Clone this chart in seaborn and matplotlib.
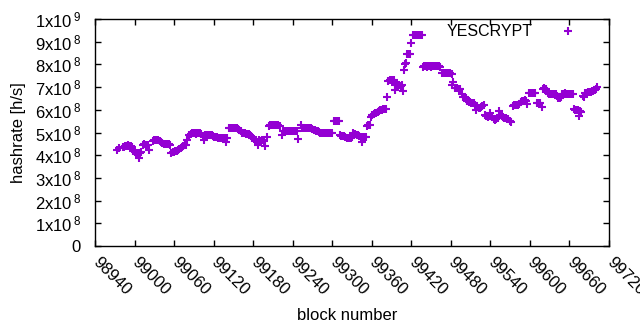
import matplotlib
matplotlib.use("Agg")
import matplotlib.pyplot as plt
import seaborn as sns
import pandas as pd

# block numbers and estimated hashrate (units of 1e8 h/s)
blocks = [
    98974, 98977,
    98982, 98984, 98986, 98988, 98990, 98992, 98994, 98996,
    98998, 99000, 99002, 99004, 99006, 99007, 99008, 99010,
    99013, 99015, 99017, 99019, 99021, 99022,
    99028, 99030, 99032, 99034, 99036, 99038, 99040,
    99042, 99044, 99046, 99048, 99050, 99052, 99054,
    99056, 99058, 99060, 99062, 99064, 99066,
    99068, 99070, 99072, 99074, 99076, 99078, 99080,
    99083, 99085, 99087, 99089, 99091, 99093, 99095, 99097, 99099, 99101,
    99104, 99106, 99107, 99109, 99111, 99113, 99115, 99117, 99119, 99121,
    99123, 99125, 99127, 99129, 99131, 99133, 99135, 99137, 99139, 99141,
    99143, 99145, 99147, 99149, 99151, 99153, 99155, 99157, 99159, 99161,
    99163, 99165, 99167, 99169, 99171, 99173, 99175, 99177, 99179,
    99181, 99183, 99185, 99187, 99189, 99191, 99193, 99195, 99197, 99198, 99201,
    99204, 99206, 99208, 99210, 99212, 99214, 99216, 99218, 99220,
    99224, 99226, 99228, 99230, 99232, 99234, 99236, 99238, 99240, 99242, 99244, 99246, 99248,
    99252, 99254, 99256, 99258, 99260, 99262, 99264, 99266, 99268, 99270, 99272, 99274, 99276, 99278, 99280,
    99282, 99284, 99286, 99288, 99290, 99292, 99294, 99296, 99298, 99300,
    99302, 99304, 99306, 99308, 99310,
    99312, 99314, 99316, 99318, 99320, 99322, 99324, 99326, 99328, 99330, 99331,
    99333, 99335, 99337, 99339, 99341, 99343, 99345, 99347, 99349, 99351,
    99353, 99355, 99357, 99359,
    99361, 99363, 99365, 99367, 99369, 99371, 99373, 99375, 99377, 99379, 99381, 99383,
    99385, 99387, 99389, 99391, 99393, 99395,
    99396, 99398, 99400, 99402, 99404, 99406, 99407, 99409,
    99410, 99412, 99414, 99416, 99418, 99420,
    99422, 99424, 99426, 99428, 99430, 99432, 99434, 99436,
    99438, 99440, 99442, 99444, 99446, 99448, 99450, 99452, 99454, 99456, 99458, 99460, 99462, 99464,
    99467, 99469, 99471, 99473, 99475, 99477, 99479, 99481, 99482, 99483,
    99486, 99488, 99490, 99492, 99494, 99497,
    99499, 99501, 99503, 99505, 99507, 99509, 99511, 99513, 99515, 99517, 99518,
    99520, 99522, 99524, 99526, 99528, 99530,
    99532, 99534, 99536, 99538, 99539, 99541, 99543,
    99545, 99547, 99549, 99551, 99553,
    99555, 99557, 99559, 99561, 99563, 99565, 99567, 99570, 99572,
    99574, 99576, 99578, 99580, 99582, 99584,
    99586, 99588, 99590, 99592, 99594, 99596,
    99598, 99600, 99602, 99604, 99606, 99608,
    99610, 99612, 99614, 99616, 99618,
    99620, 99621, 99623, 99625,
    99627, 99629, 99631, 99633, 99635, 99637, 99639, 99641,
    99643, 99645, 99647,
    99649, 99651, 99653, 99655, 99657, 99659, 99661, 99663, 99665,
    99667, 99669, 99671, 99673, 99674, 99676, 99678, 99680,
    99682, 99684, 99686, 99688, 99690, 99692, 99694, 99696, 99698, 99700, 99702,
]
hashrate_e8 = [
    4.22, 4.30,
    4.35, 4.38, 4.40, 4.42, 4.43, 4.42, 4.40, 4.38,
    4.20, 4.12, 4.08, 4.05, 4.10, 3.88, 4.08, 4.12,
    4.45, 4.48, 4.46, 4.44, 4.45, 4.23,
    4.62, 4.66, 4.68, 4.68, 4.66, 4.64, 4.60,
    4.52, 4.50, 4.49, 4.48, 4.50, 4.48, 4.47,
    4.10, 4.12, 4.14, 4.17, 4.20, 4.22,
    4.26, 4.30, 4.35, 4.40, 4.44, 4.45, 4.67,
    4.90, 4.95, 4.98, 5.00, 4.98, 4.95, 4.96, 5.00, 4.98, 4.95,
    4.85, 4.67, 4.88, 4.90, 4.89, 4.88, 4.90, 4.88, 4.86, 4.82,
    4.80, 4.78, 4.76, 4.75, 4.74, 4.76, 4.75, 4.74, 4.58, 4.75,
    5.18, 5.20, 5.22, 5.21, 5.20, 5.20, 5.18, 5.15, 5.12, 5.05,
    5.00, 4.98, 4.98, 4.95, 4.93, 4.92, 4.90, 4.85, 4.75,
    4.70, 4.68, 4.66, 4.45, 4.65, 4.64, 4.66, 4.65, 4.62, 4.41, 4.80,
    5.28, 5.32, 5.35, 5.35, 5.34, 5.33, 5.34, 5.32, 5.30,
    4.89, 5.05, 5.08, 5.08, 5.07, 5.08, 5.07, 5.06, 5.07, 5.08, 5.06, 5.05, 4.71,
    5.33, 5.22, 5.20, 5.21, 5.20, 5.20, 5.19, 5.20, 5.18, 5.15, 5.12, 5.10, 5.08, 5.05, 5.02,
    4.98, 4.98, 4.97, 4.98, 4.99, 4.98, 4.98, 4.97, 4.98, 4.99,
    5.50, 5.52, 5.51, 5.50, 5.50,
    4.89, 4.85, 4.86, 4.84, 4.80, 4.76, 4.74, 4.75, 4.76, 4.80, 5.00,
    4.90, 4.92, 4.90, 4.88, 4.85, 4.80, 4.58, 4.78, 4.80, 4.78,
    5.30, 5.33, 5.34, 5.68,
    5.75, 5.80, 5.85, 5.88, 5.92, 5.95, 5.98, 6.00, 6.02, 6.04, 6.04, 6.56,
    7.28, 7.31, 7.32, 7.31, 7.30, 6.87,
    7.10, 7.08, 7.10, 7.09, 7.05, 7.08, 6.83, 7.75,
    8.02, 8.05, 8.45, 8.45, 8.48, 8.94,
    9.28, 9.30, 9.30, 9.31, 9.30, 9.30, 9.30, 9.28,
    7.90, 7.92, 7.91, 7.90, 7.91, 7.92, 7.90, 7.91, 7.93, 7.95, 7.94, 7.93, 7.92, 7.88,
    7.62, 7.63, 7.62, 7.62, 7.60, 7.62, 7.60, 7.58, 7.09, 7.22,
    6.98, 6.96, 6.95, 6.92, 6.90, 6.70,
    6.56, 6.55, 6.50, 6.40, 6.35, 6.34, 6.32, 6.30, 6.28, 6.20, 5.99,
    6.15, 6.10, 6.08, 6.12, 6.15, 6.20,
    5.75, 5.72, 5.70, 5.73, 5.86, 5.72, 5.70,
    5.60, 5.55, 5.58, 5.62, 5.95,
    5.75, 5.72, 5.70, 5.65, 5.62, 5.60, 5.58, 5.50, 5.45,
    6.18, 6.20, 6.21, 6.20, 6.22, 6.25,
    6.35, 6.38, 6.40, 6.42, 6.40, 6.25,
    6.72, 6.74, 6.75, 6.74, 6.73, 6.72,
    6.30, 6.32, 6.30, 6.28, 6.12,
    6.92, 6.95, 6.92, 6.90,
    6.72, 6.70, 6.70, 6.68, 6.70, 6.71, 6.70, 6.60,
    6.52, 6.50, 6.55,
    6.68, 6.70, 6.72, 6.70, 6.71, 6.70, 6.70, 6.71, 6.68,
    6.02, 6.00, 5.98, 6.00, 5.73, 5.95, 5.92, 6.62,
    6.55, 6.72, 6.75, 6.78, 6.80, 6.80, 6.82, 6.85, 6.88, 6.92, 7.00,
]

series_name = "YESCRYPT"
x_ticks = [98940, 99000, 99060, 99120, 99180, 99240, 99300, 99360, 99420, 99480, 99540, 99600, 99660, 99720]
y_ticks_e8 = [0, 1, 2, 3, 4, 5, 6, 7, 8, 9, 10]
y_tick_labels = ["0", "1x10$^{\\,8}$", "2x10$^{\\,8}$", "3x10$^{\\,8}$", "4x10$^{\\,8}$",
                 "5x10$^{\\,8}$", "6x10$^{\\,8}$", "7x10$^{\\,8}$", "8x10$^{\\,8}$",
                 "9x10$^{\\,8}$", "1x10$^{\\,9}$"]

plt.rcParams['font.family'] = ['Liberation Sans', 'DejaVu Sans']
plt.rcParams['mathtext.fontset'] = 'custom'
plt.rcParams['mathtext.rm'] = 'Liberation Sans'
plt.rcParams['mathtext.default'] = 'regular'

df = pd.DataFrame({"block": blocks, "hashrate": [v * 1e8 for v in hashrate_e8]})

fig = plt.figure(figsize=(6.4, 3.3), dpi=100)
ax = fig.add_axes([95 / 640, 1 - 246 / 330, 514 / 640, 227 / 330])

sns.scatterplot(data=df, x="block", y="hashrate", marker="+", s=36,
                color="#9400D3", linewidth=1.5, label=series_name, ax=ax)

ax.set_xlim(98940, 99720)
ax.set_ylim(0, 1e9)
ax.set_xticks(x_ticks)
ax.set_xticklabels([str(t) for t in x_ticks], rotation=-45, ha="left", va="center",
                   rotation_mode="anchor")
ax.set_yticks([v * 1e8 for v in y_ticks_e8])
ax.set_yticklabels(y_tick_labels)

ax.tick_params(axis="both", direction="in", length=4, width=1, labelsize=12,
               top=True, right=True, colors="black")
ax.tick_params(axis="y", pad=10)
ax.tick_params(axis="x", pad=10)
for sp in ax.spines.values():
    sp.set_linewidth(1)
    sp.set_color("black")

ax.set_xlabel("block number", fontsize=12)
ax.set_ylabel("hashrate [h/s]", fontsize=12)
ax.xaxis.set_label_coords(0.49, -0.275)
ax.yaxis.set_label_coords(-0.135, 0.5)

ax.legend(loc="center right", bbox_to_anchor=(0.951, 0.947), markerfirst=False,
          frameon=False, fontsize=11.5, handlelength=2, handletextpad=1.2,
          borderpad=0, borderaxespad=0, scatterpoints=1)

fig.savefig("out.png", dpi=100)
